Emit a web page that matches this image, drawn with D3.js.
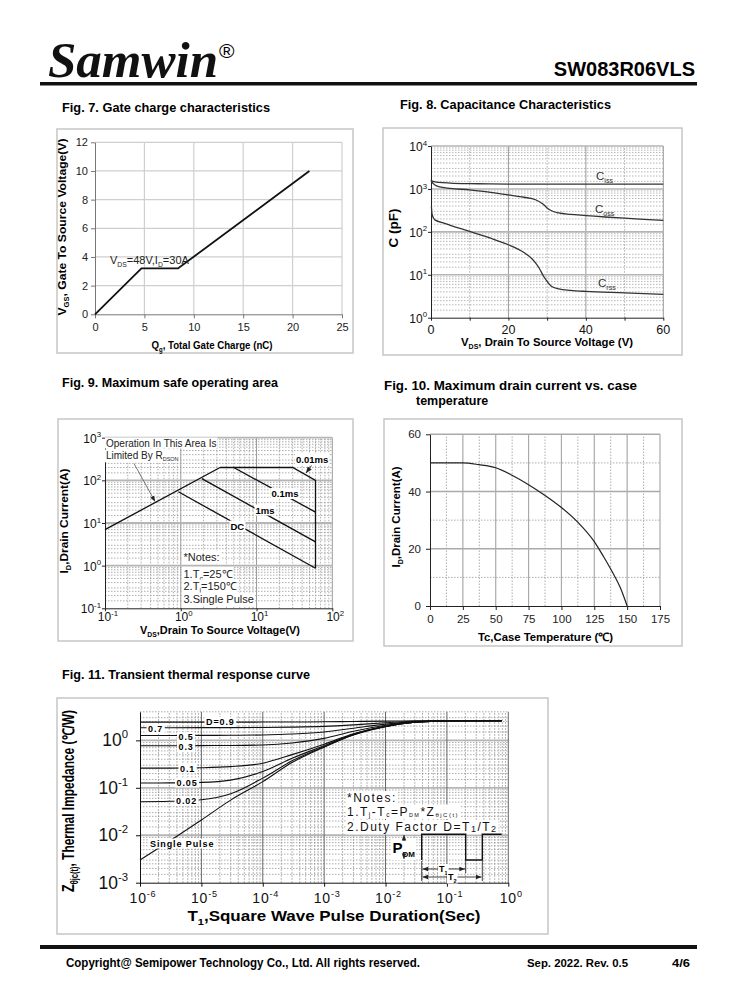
<!DOCTYPE html>
<html lang="en">
<head>
<meta charset="UTF-8">
<title>SW083R06VLS page 4</title>
<script src="https://d3js.org/d3.v7.min.js"></script>
<style>
  body { margin: 0; background: #fff; }
  svg { display: block; }
</style>
</head>
<body>
<div id="page"></div>
<script>
// ---- data ----
// Fig. 7 gate charge
const gateCharge = [0, 4.7, 8.4, 21.7];
const gateVoltage = [0, 3.2, 3.2, 10];
const gateXTicks = [0, 5, 10, 15, 20, 25];
const gateYTicks = [0, 2, 4, 6, 8, 10, 12];

// Fig. 8 capacitance
const cissVds = [0, 0.5, 2, 5, 10, 15, 20, 40, 60];
const cissPf = [1600, 1500, 1420, 1370, 1330, 1310, 1300, 1300, 1300];
const cossVds = [0, 0.5, 2, 5, 10, 15, 20, 24, 27, 29, 30, 31, 33, 36, 40, 45, 50, 55, 60];
const cossPf = [1600, 1350, 1130, 1030, 950, 840, 725, 640, 560, 440, 360, 315, 275, 255, 240, 222, 208, 196, 186];
const crssVds = [0.1, 0.3, 1, 3.5, 10, 15, 20, 24, 26, 27, 28, 29, 30, 31, 33, 36, 40, 50, 60];
const crssPf = [390, 250, 190, 158, 102, 73, 50, 33, 24, 19, 14, 9.5, 7, 5.5, 4.7, 4.35, 4.1, 3.8, 3.5];
const capXTicks = [0, 20, 40, 60];
const capYTicks = [1, 10, 100, 1000, 10000];

// Fig. 9 safe operating area
const soaRdsV = [0.1, 3.3];
const soaRdsI = [7, 200];
const soa10usV = [3.3, 30, 60, 60];
const soa10usI = [200, 200, 100, 0.87];
const soa100usV = [5, 60];
const soa100usI = [200, 18];
const soa1msV = [1.9, 60];
const soa1msI = [110, 3.6];
const soaDcV = [0.93, 60];
const soaDcI = [54, 0.87];
const soaXTicks = [0.1, 1, 10, 100];
const soaYTicks = [0.1, 1, 10, 100, 1000];

// Fig. 10 drain current vs case temperature
const caseTemp = [0, 25, 37, 50, 62, 75, 87, 100, 112, 125, 132, 140, 145, 150];
const drainCurrent = [50, 50, 49.4, 48.3, 45.8, 42.4, 38.8, 34.4, 29.5, 22.5, 17.3, 10.8, 6.2, 0];
const tempXTicks = [0, 25, 50, 75, 100, 125, 150, 175];
const tempYTicks = [0, 20, 40, 60];

// Fig. 11 transient thermal response
const pulseTime = [1e-6, 3e-6, 1e-5, 3e-5, 1e-4, 3e-4, 1e-3, 3e-3, 1e-2, 3e-2, 1e-1, 0.78];
const zSingle = [0.003, 0.0075, 0.021, 0.055, 0.135, 0.34, 0.72, 1.3, 1.95, 2.4, 2.58, 2.6];
const zD002 = [0.051, 0.052, 0.056, 0.075, 0.16, 0.37, 0.74, 1.32, 1.96, 2.4, 2.58, 2.6];
const zD005 = [0.126, 0.127, 0.13, 0.145, 0.22, 0.42, 0.77, 1.34, 1.97, 2.41, 2.58, 2.6];
const zD01 = [0.26, 0.26, 0.265, 0.28, 0.33, 0.5, 0.83, 1.38, 1.99, 2.42, 2.58, 2.6];
const zD03 = [0.77, 0.77, 0.775, 0.78, 0.8, 0.88, 1.1, 1.55, 2.08, 2.45, 2.59, 2.6];
const zD05 = [1.27, 1.27, 1.275, 1.28, 1.3, 1.36, 1.5, 1.8, 2.2, 2.48, 2.59, 2.6];
const zD07 = [1.85, 1.85, 1.855, 1.86, 1.87, 1.9, 1.97, 2.12, 2.35, 2.52, 2.59, 2.6];
const zD09 = [2.42, 2.42, 2.42, 2.42, 2.43, 2.44, 2.46, 2.5, 2.55, 2.58, 2.6, 2.6];
const thermXTicks = [1e-6, 1e-5, 1e-4, 1e-3, 1e-2, 1e-1, 1];
const thermYTicks = [1e-3, 1e-2, 1e-1, 1];

const FONT = "'Liberation Sans', Arial, Helvetica, sans-serif";

const svg = d3.select("#page").append("svg")
  .attr("width", 738).attr("height", 1000)
  .attr("font-family", FONT);

svg.append("defs").append("marker")
  .attr("id", "arr").attr("viewBox", "0 0 10 10")
  .attr("refX", 10).attr("refY", 5)
  .attr("markerWidth", 7).attr("markerHeight", 7)
  .attr("orient", "auto-start-reverse")
  .append("path").attr("d", "M0,1 L10,5 L0,9 z").attr("fill", "#222");

// ---- helpers ----
function box(x, y, w, h) {
  svg.append("rect").attr("x", x).attr("y", y).attr("width", w).attr("height", h)
    .attr("fill", "none").attr("stroke", "#c6c6c6").attr("stroke-width", 1.5);
}

function title(x, y, str, len) {
  const t = svg.append("text").attr("x", x).attr("y", y)
    .attr("font-weight", "bold").attr("font-size", 12.5)
    .text(str);
  if (len) t.attr("textLength", len).attr("lengthAdjust", "spacingAndGlyphs");
}

function gridV(g, sx, vals, y0, y1, stroke, dash, w) {
  g.append("g").selectAll("line").data(vals).join("line")
    .attr("x1", d => sx(d)).attr("x2", d => sx(d))
    .attr("y1", y0).attr("y2", y1)
    .attr("stroke", stroke).attr("stroke-width", w || 1)
    .attr("stroke-dasharray", dash || null);
}

function gridH(g, sy, vals, x0, x1, stroke, dash, w) {
  g.append("g").selectAll("line").data(vals).join("line")
    .attr("y1", d => sy(d)).attr("y2", d => sy(d))
    .attr("x1", x0).attr("x2", x1)
    .attr("stroke", stroke).attr("stroke-width", w || 1)
    .attr("stroke-dasharray", dash || null);
}

function logMinor(lo, hi, steps) {
  const out = [];
  for (let e = Math.round(Math.log10(lo)); e < Math.ceil(Math.log10(hi)); e++)
    steps.forEach(k => { const v = k * Math.pow(10, e); if (v < hi * 0.999) out.push(v); });
  return out;
}

// text with sub/superscript parts: [[str, ""|"sub"|"sup", size?]]
function rich(g, x, y, parts, size, subShift) {
  const t = g.append("text").attr("x", x).attr("y", y).attr("font-size", size);
  const down = subShift === undefined ? 0.28 : subShift;
  let shift = 0;
  parts.forEach(p => {
    const kind = p[1] || "";
    const target = kind === "sub" ? down * size : kind === "sup" ? -0.42 * size : 0;
    const ts = t.append("tspan").text(p[0]);
    if (target - shift !== 0) ts.attr("dy", (target - shift).toFixed(2));
    if (kind) ts.attr("font-size", p[2] || size * 0.62);
    else if (p[2]) ts.attr("font-size", p[2]);
    shift = target;
  });
  return t;
}

function powLabel(g, x, y, v, size, anchor) {
  const e = Math.round(Math.log10(v));
  const t = g.append("text").attr("x", x).attr("y", y)
    .attr("font-size", size).attr("text-anchor", anchor).attr("fill", "#111");
  t.append("tspan").text("10");
  t.append("tspan").attr("dy", -size * 0.45).attr("font-size", size * 0.65).text(e);
  return t;
}

function whiteBack(g, t, px, py) {
  const b = t.node().getBBox();
  g.insert("rect", () => t.node())
    .attr("x", b.x - px).attr("y", b.y - py)
    .attr("width", b.width + 2 * px).attr("height", b.height + 2 * py)
    .attr("fill", "#fff");
}

function rotLabel(g, x, y, parts, size, len) {
  const t = rich(g, 0, 0, parts, size)
    .attr("transform", `translate(${x},${y}) rotate(-90)`)
    .attr("text-anchor", "middle").attr("font-weight", "bold");
  if (len) t.attr("textLength", len).attr("lengthAdjust", "spacingAndGlyphs");
  return t;
}

function styleAxis(a, size, color) {
  a.attr("font-family", FONT).attr("font-size", size);
  a.select(".domain").attr("stroke", color);
  a.selectAll(".tick line").attr("stroke", color);
  a.selectAll(".tick text").attr("fill", "#222");
}

function pathOf(xs, ys, sx, sy, curve) {
  return d3.line().x(d => sx(d[0])).y(d => sy(d[1])).curve(curve || d3.curveLinear)(d3.zip(xs, ys));
}

// ---- header ----
svg.append("text").attr("x", 48).attr("y", 77)
  .attr("font-family", "'Liberation Serif', 'Times New Roman', serif")
  .attr("font-style", "italic").attr("font-weight", "bold").attr("font-size", 51)
  .attr("fill", "#111").text("Samwin");
svg.append("text").attr("x", 219).attr("y", 58).attr("font-size", 21).text("®");
svg.append("text").attr("x", 695).attr("y", 76).attr("text-anchor", "end")
  .attr("font-weight", "bold").attr("font-size", 20).text("SW083R06VLS");
svg.append("rect").attr("x", 40).attr("y", 82).attr("width", 657).attr("height", 3.5).attr("fill", "#111");

// ---- titles ----
title(62, 112, "Fig. 7. Gate charge characteristics", 208);
title(400, 109, "Fig. 8. Capacitance Characteristics", 211);
title(62, 387, "Fig. 9. Maximum safe operating area", 216);
title(384, 390, "Fig. 10. Maximum drain current vs. case", 253);
title(416, 405, "temperature");
title(62, 679, "Fig. 11. Transient thermal response curve", 248);

// ---- Fig. 7 ----
box(57, 129, 296, 224);
const g7 = svg.append("g");
const x7 = d3.scaleLinear().domain([0, 25]).range([95, 342]);
const y7 = d3.scaleLinear().domain([0, 12]).range([314.3, 142.3]);
gridV(g7, x7, gateXTicks.slice(1), y7(0), y7(12), "#cfcfcf", null, 1.2);
gridH(g7, y7, gateYTicks.slice(1), x7(0), x7(25), "#cfcfcf", null, 1.2);
styleAxis(g7.append("g").attr("transform", `translate(0,${y7(0)})`)
  .call(d3.axisBottom(x7).tickValues(gateXTicks).tickSize(4).tickSizeOuter(0).tickPadding(5)), 11, "#777");
styleAxis(g7.append("g").attr("transform", `translate(${x7(0)},0)`)
  .call(d3.axisLeft(y7).tickValues(gateYTicks).tickSize(4).tickSizeOuter(0).tickPadding(3)), 11, "#777");
g7.append("path").attr("d", pathOf(gateCharge, gateVoltage, x7, y7))
  .attr("fill", "none").attr("stroke", "#111").attr("stroke-width", 1.8);
rich(g7, 110, 263.5, [["V"], ["DS", "sub"], ["=48V,I"], ["D", "sub"], ["=30A"]], 11).attr("fill", "#222");
rotLabel(g7, 66, 227, [["V"], ["GS", "sub"], [",  Gate To Source Voltage(V)"]], 11, 177);
rich(g7, 212, 349, [["Q"], ["g", "sub"], [", Total Gate Charge (nC)"]], 11)
  .attr("text-anchor", "middle").attr("font-weight", "bold")
  .attr("textLength", 121).attr("lengthAdjust", "spacingAndGlyphs");

// ---- Fig. 8 ----
box(383, 128, 299, 227);
const g8 = svg.append("g");
const x8 = d3.scaleLinear().domain([0, 60]).range([431, 663.3]);
const y8 = d3.scaleLog().domain([1, 10000]).range([317.7, 146]);
gridH(g8, y8, logMinor(1, 10000, [1.5, 2, 2.5, 3, 4, 5, 6, 7, 8, 9]), x8(0), x8(60), "#9a9a9a", "1.5,1.5", 0.7);
gridV(g8, x8, [10, 30, 50], y8(1), y8(10000), "#999", "1.5,1.5", 0.8);
gridV(g8, x8, [20, 40, 60], y8(1), y8(10000), "#9a9a9a", null, 1);
gridH(g8, y8, capYTicks.slice(1), x8(0), x8(60), "#b5b5b5", null, 1.6);
g8.append("g").attr("transform", `translate(0,${y8(1)})`)
  .call(d3.axisBottom(x8).tickValues([0, 10, 20, 30, 40, 50, 60]).tickSize(3).tickSizeOuter(0).tickFormat(() => ""))
  .call(a => styleAxis(a, 12, "#222"));
g8.append("g").attr("transform", `translate(${x8(0)},0)`)
  .call(d3.axisLeft(y8).tickValues(capYTicks).tickSize(3).tickSizeOuter(0).tickFormat(() => ""))
  .call(a => styleAxis(a, 12, "#222"));
capXTicks.forEach(v => g8.append("text").attr("x", x8(v)).attr("y", 334)
  .attr("text-anchor", "middle").attr("font-size", 12.5).attr("fill", "#111").text(v));
capYTicks.forEach(v => powLabel(g8, 427, y8(v) + 5, v, 12, "end"));
[[cissVds, cissPf, "#333"], [cossVds, cossPf, "#333"], [crssVds, crssPf, "#333"]].forEach(s => {
  g8.append("path").attr("d", pathOf(s[0], s[1], x8, y8, d3.curveMonotoneX))
    .attr("fill", "none").attr("stroke", s[2]).attr("stroke-width", 1.3);
});
rich(g8, 596, 180, [["C"], ["iss", "sub"]], 11.5).attr("fill", "#333");
rich(g8, 595, 213, [["C"], ["oss", "sub"]], 11.5).attr("fill", "#333");
rich(g8, 598, 287, [["C"], ["rss", "sub"]], 11.5).attr("fill", "#333");
rotLabel(g8, 398, 228, [["C (pF)"]], 13.5);
rich(g8, 547, 346, [["V"], ["DS", "sub"], [", Drain To Source Voltage (V)"]], 11.5)
  .attr("text-anchor", "middle").attr("font-weight", "bold")
  .attr("textLength", 172).attr("lengthAdjust", "spacingAndGlyphs");

// ---- Fig. 9 ----
box(58, 419, 295, 222);
const g9 = svg.append("g");
const x9 = d3.scaleLog().domain([0.1, 100]).range([105, 332.3]);
const y9 = d3.scaleLog().domain([0.1, 1000]).range([608.3, 437.7]);
const steps = [2, 3, 4, 5, 6, 7, 8, 9];
gridV(g9, x9, logMinor(0.1, 100, steps), y9(0.1), y9(1000), "#8c8c8c", "1.5,1.5", 0.7);
gridH(g9, y9, logMinor(0.1, 1000, [1.5, 2, 2.5, 3, 4, 5, 6, 7, 8, 9]), x9(0.1), x9(100), "#8c8c8c", "1.5,1.5", 0.7);
gridV(g9, x9, soaXTicks.slice(1), y9(0.1), y9(1000), "#9a9a9a", null, 1);
gridH(g9, y9, soaYTicks.slice(1), x9(0.1), x9(100), "#b5b5b5", null, 1.8);
g9.append("g").attr("transform", `translate(0,${y9(0.1)})`)
  .call(d3.axisBottom(x9).tickValues(soaXTicks).tickSize(3).tickSizeOuter(0).tickFormat(() => ""))
  .call(a => styleAxis(a, 12, "#222"));
g9.append("g").attr("transform", `translate(${x9(0.1)},0)`)
  .call(d3.axisLeft(y9).tickValues(soaYTicks).tickSize(3).tickSizeOuter(0).tickFormat(() => ""))
  .call(a => styleAxis(a, 12, "#222"));
soaXTicks.forEach(v => powLabel(g9, x9(v) + 3, 621, v, 12, "middle"));
soaYTicks.forEach(v => powLabel(g9, 101, y9(v) + 5, v, 12, "end"));
[[soaRdsV, soaRdsI], [soa10usV, soa10usI], [soa100usV, soa100usI], [soa1msV, soa1msI], [soaDcV, soaDcI]].forEach(s => {
  g9.append("path").attr("d", pathOf(s[0], s[1], x9, y9))
    .attr("fill", "none").attr("stroke", "#111").attr("stroke-width", 1.3);
});
[["0.01ms", 296, 462.5], ["0.1ms", 271.5, 497], ["1ms", 255.5, 513.5], ["DC", 230.5, 529.5]].forEach(l => {
  const t = g9.append("text").attr("x", l[1]).attr("y", l[2]).attr("font-size", 9.5)
    .attr("font-weight", "bold").text(l[0]);
  whiteBack(g9, t, 1, 0);
});
g9.append("line").attr("x1", 311.5).attr("y1", 465.5).attr("x2", 306).attr("y2", 473)
  .attr("stroke", "#222").attr("stroke-width", 0.9).attr("marker-end", "url(#arr)");
const op1 = g9.append("text").attr("x", 106).attr("y", 446.5).attr("font-size", 10).attr("fill", "#222")
  .text("Operation In This Area Is");
whiteBack(g9, op1, 1, 0);
const op2 = rich(g9, 106, 458.5, [["Limited By R"], ["DSON", "sub", 5.5]], 10).attr("fill", "#222");
whiteBack(g9, op2, 1, 0);
g9.append("line").attr("x1", 134).attr("y1", 463.5).attr("x2", 155).attr("y2", 501.5)
  .attr("stroke", "#555").attr("stroke-width", 0.8).attr("marker-end", "url(#arr)");
[[[["*Notes:"]], 561], [[["1.T"], ["c", "sub", 7], ["=25℃"]], 577.5],
 [[["2.T"], ["j", "sub", 7], ["=150℃"]], 590], [[["3.Single Pulse"]], 603]].forEach(n => {
  const t = rich(g9, 183.5, n[1], n[0], 11).attr("fill", "#222");
  whiteBack(g9, t, 1, 0.5);
});
rotLabel(g9, 68, 521, [["I"], ["D", "sub"], [",Drain Current(A)"]], 11.5, 105);
rich(g9, 220, 634, [["V"], ["DS", "sub"], [",Drain To Source Voltage(V)"]], 11.5)
  .attr("text-anchor", "middle").attr("font-weight", "bold")
  .attr("textLength", 160).attr("lengthAdjust", "spacingAndGlyphs");

// ---- Fig. 10 ----
box(384, 419, 298, 227);
const g10 = svg.append("g");
const x10 = d3.scaleLinear().domain([0, 175]).range([430, 660]);
const y10 = d3.scaleLinear().domain([0, 60]).range([606, 434.3]);
gridV(g10, x10, [12.5, 37.5, 62.5, 87.5, 112.5, 137.5, 162.5], y10(0), y10(60), "#999", "1.5,1.5", 0.8);
gridH(g10, y10, [10, 30, 50], x10(0), x10(175), "#999", "1.5,1.5", 0.8);
gridV(g10, x10, tempXTicks.slice(1), y10(0), y10(60), "#aaa", null, 1.2);
gridH(g10, y10, tempYTicks.slice(1), x10(0), x10(175), "#aaa", null, 1.4);
styleAxis(g10.append("g").attr("transform", `translate(0,${y10(0)})`)
  .call(d3.axisBottom(x10).tickValues(tempXTicks).tickSize(4).tickSizeOuter(0).tickPadding(5)), 11.5, "#222");
styleAxis(g10.append("g").attr("transform", `translate(${x10(0)},0)`)
  .call(d3.axisLeft(y10).tickValues(tempYTicks).tickSize(4).tickSizeOuter(0).tickPadding(5)), 11.5, "#222");
g10.append("path").attr("d", pathOf(caseTemp, drainCurrent, x10, y10, d3.curveMonotoneX))
  .attr("fill", "none").attr("stroke", "#222").attr("stroke-width", 1.2);
rotLabel(g10, 400, 517, [["I"], ["D", "sub"], [",Drain Current(A)"]], 11.5, 101);
g10.append("text").attr("x", 545.5).attr("y", 641).attr("text-anchor", "middle")
  .attr("font-weight", "bold").attr("font-size", 11.5)
  .attr("textLength", 135).attr("lengthAdjust", "spacingAndGlyphs")
  .text("Tc,Case Temperature (℃)");

// ---- Fig. 11 ----
box(57, 698, 491, 236);
const g11 = svg.append("g");
const x11 = d3.scaleLog().domain([1e-6, 1]).range([140, 508.3]);
const y11 = d3.scaleLog().domain([1e-3, 4]).range([882.7, 711.8]);
gridV(g11, x11, logMinor(1e-6, 1, steps), y11(1e-3), y11(4), "#777", "1.5,1.5", 0.7);
gridH(g11, y11, logMinor(1e-3, 4, [1.5, 2, 2.5, 3, 4, 5, 6, 7, 8, 9]).concat([4]), x11(1e-6), x11(1), "#8a8a8a", "1.5,1.5", 0.7);
gridH(g11, y11, thermYTicks.slice(1), x11(1e-6), x11(1), "#b5b5b5", null, 1.8);
gridV(g11, x11, thermXTicks.slice(1), y11(1e-3), y11(4), "#666", null, 1);
g11.append("g").attr("transform", `translate(0,${y11(1e-3)})`)
  .call(d3.axisBottom(x11).tickValues(thermXTicks).tickSize(4).tickSizeOuter(0).tickFormat(() => ""))
  .call(a => styleAxis(a, 12, "#111"));
g11.append("g").attr("transform", `translate(${x11(1e-6)},0)`)
  .call(d3.axisLeft(y11).tickValues(thermYTicks).tickSize(4).tickSizeOuter(0).tickFormat(() => ""))
  .call(a => styleAxis(a, 12, "#111"));
thermXTicks.forEach(v => powLabel(g11, x11(v) + 3, 903, v, 14, "middle").attr("letter-spacing", 0.8));
thermYTicks.forEach(v => powLabel(g11, 128, y11(v) + 6, v, 17.5, "end"));
[zSingle, zD002, zD005, zD01, zD03, zD05, zD07, zD09].forEach(z => {
  g11.append("path").attr("d", pathOf(pulseTime, z, x11, y11, d3.curveMonotoneX))
    .attr("fill", "none").attr("stroke", "#111").attr("stroke-width", 1.1);
});
[["D=0.9", 206, 725], ["0.7", 148, 732], ["0.5", 178.5, 740], ["0.3", 178.5, 750],
 ["0.1", 180, 771.5], ["0.05", 176.5, 785.5], ["0.02", 176, 804], ["Single Pulse", 150, 846.5]].forEach(l => {
  const t = g11.append("text").attr("x", l[1]).attr("y", l[2]).attr("font-size", 9)
    .attr("font-weight", "bold").attr("letter-spacing", 0.9).text(l[0]);
  whiteBack(g11, t, 1.5, 0);
});
// notes
[[[["*Notes:"]], 802, 0.28], [[["1.T"], ["j", "sub", 6.5], ["-T"], ["c", "sub", 6.5], ["=P"], ["DM", "sub", 5.5], ["*Z"], ["θjC(t)", "sub", 6]], 815.5, 0.12],
 [[["2.Duty Factor D=T"], ["1", "sub", 9], ["/T"], ["2", "sub", 9]], 831, 0.12]].forEach(n => {
  const t = rich(g11, 347, n[1], n[0], 12, n[2]).attr("fill", "#111").attr("letter-spacing", 1.5);
  whiteBack(g11, t, 1, 0);
});
// pulse train sketch
g11.append("path").attr("d", "M421.7,860 V834.3 H465.7 V860 H482.3 V834.3 H501.7")
  .attr("fill", "none").attr("stroke", "#111").attr("stroke-width", 1.4);
g11.append("path").attr("d", "M421.7,861 V881 M465.7,861 V873 M482.3,861 V881")
  .attr("fill", "none").attr("stroke", "#111").attr("stroke-width", 0.8);
const pdm = rich(g11, 392.5, 853, [["P", "", 15], ["DM", "sub", 8]], 15).attr("font-weight", "bold");
whiteBack(g11, pdm, 1, 1);
g11.append("line").attr("x1", 404).attr("y1", 841).attr("x2", 404).attr("y2", 835)
  .attr("stroke", "#111").attr("stroke-width", 0.8).attr("marker-end", "url(#arr)");
g11.append("line").attr("x1", 404).attr("y1", 853).attr("x2", 404).attr("y2", 859)
  .attr("stroke", "#111").attr("stroke-width", 0.8).attr("marker-end", "url(#arr)");
g11.append("line").attr("x1", 422.5).attr("y1", 869).attr("x2", 465).attr("y2", 869)
  .attr("stroke", "#111").attr("stroke-width", 0.8)
  .attr("marker-start", "url(#arr)").attr("marker-end", "url(#arr)");
g11.append("line").attr("x1", 422.5).attr("y1", 877).attr("x2", 481.5).attr("y2", 877)
  .attr("stroke", "#111").attr("stroke-width", 0.8)
  .attr("marker-start", "url(#arr)").attr("marker-end", "url(#arr)");
const t1 = rich(g11, 439, 872, [["T"], ["1", "sub", 5.5]], 9).attr("font-weight", "bold");
whiteBack(g11, t1, 1, 0);
const t2 = rich(g11, 448, 880, [["T"], ["2", "sub", 5.5]], 9).attr("font-weight", "bold");
whiteBack(g11, t2, 1, 0);
rotLabel(g11, 74, 801, [["Z", "", 17], ["θjc(t)", "sub", 10], [", Thermal Impedance (℃/W)", "", 16]], 16, 182);
rich(g11, 334, 921, [["T"], ["1", "sub", 9], [",Square Wave Pulse Duration(Sec)"]], 14)
  .attr("text-anchor", "middle").attr("font-weight", "bold")
  .attr("textLength", 293).attr("lengthAdjust", "spacingAndGlyphs");

// ---- footer ----
svg.append("rect").attr("x", 40).attr("y", 945).attr("width", 657).attr("height", 4).attr("fill", "#111");
svg.append("text").attr("x", 66).attr("y", 967).attr("font-weight", "bold").attr("font-size", 12.5)
  .attr("textLength", 354).attr("lengthAdjust", "spacingAndGlyphs")
  .text("Copyright@ Semipower Technology Co., Ltd. All rights reserved.");
svg.append("text").attr("x", 527).attr("y", 967).attr("font-weight", "bold").attr("font-size", 11.5)
  .attr("textLength", 101).attr("lengthAdjust", "spacingAndGlyphs").text("Sep. 2022. Rev. 0.5");
svg.append("text").attr("x", 672).attr("y", 967).attr("font-weight", "bold").attr("font-size", 11.5)
  .attr("textLength", 18).attr("lengthAdjust", "spacingAndGlyphs").text("4/6");
</script>
</body>
</html>
